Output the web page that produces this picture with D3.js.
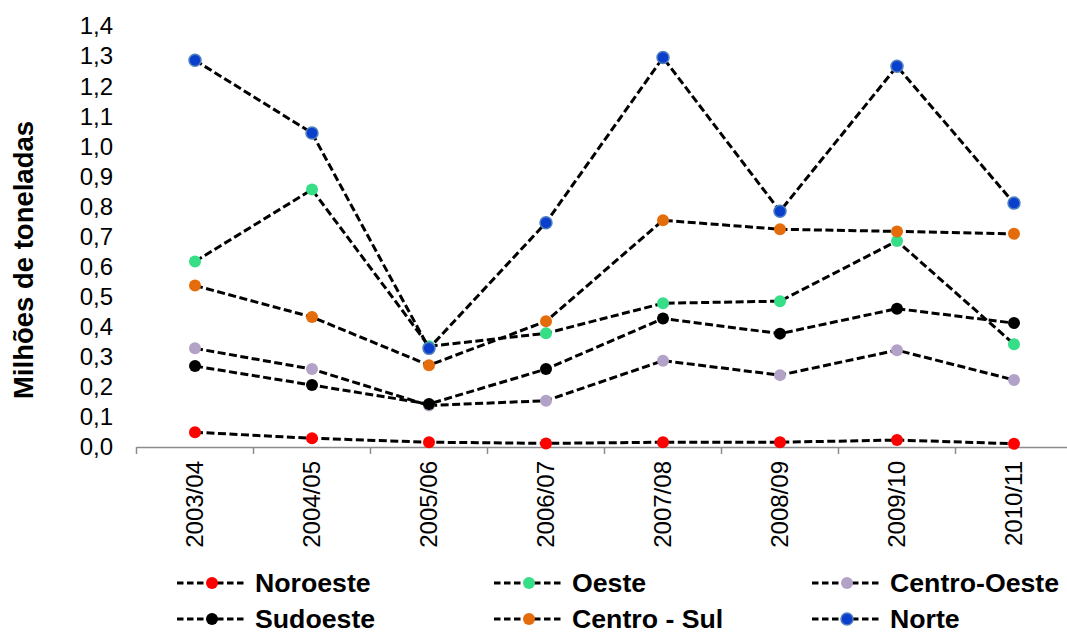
<!DOCTYPE html>
<html>
<head>
<meta charset="utf-8">
<script src="https://cdn.jsdelivr.net/npm/d3@7"></script>
<style>
  body { margin: 0; background: #fff; }
  svg { display: block; font-family: Arial, "Liberation Sans", sans-serif; }
</style>
</head>
<body>
<svg id="chart"></svg>
<script>
// Data
var safras = ["2003/04", "2004/05", "2005/06", "2006/07", "2007/08", "2008/09", "2009/10", "2010/11"];
var seriesNames = ["Noroeste", "Oeste", "Centro-Oeste", "Sudoeste", "Centro - Sul", "Norte"];
var noroeste    = [0.049, 0.029, 0.016, 0.012, 0.016, 0.016, 0.023, 0.011];
var oeste       = [0.617, 0.856, 0.335, 0.378, 0.478, 0.485, 0.685, 0.342];
var centroOeste = [0.328, 0.259, 0.138, 0.154, 0.287, 0.239, 0.322, 0.223];
var sudoeste    = [0.269, 0.206, 0.143, 0.259, 0.427, 0.377, 0.460, 0.412];
var centroSul   = [0.537, 0.432, 0.272, 0.418, 0.754, 0.724, 0.717, 0.709];
var norte       = [1.286, 1.044, 0.328, 0.746, 1.295, 0.784, 1.266, 0.811];
var yTicks = [0, 0.1, 0.2, 0.3, 0.4, 0.5, 0.6, 0.7, 0.8, 0.9, 1.0, 1.1, 1.2, 1.3, 1.4];

var colors = ["#ff0000", "#36de87", "#b3a2c7", "#000000", "#e46c0a", "#0a3fcc"];
var strokes = [null, null, null, null, null, "#4f7fbf"];
var allValues = [noroeste, oeste, centroOeste, sudoeste, centroSul, norte];

var width = 1067, height = 634;
var svg = d3.select("#chart").attr("width", width).attr("height", height);

var x = d3.scaleBand()
    .domain(safras)
    .range([136.5, 136.5 + 117 * safras.length]);

var y = d3.scaleLinear()
    .domain([0, 1.4])
    .range([447, 26]);

// Y tick labels (no axis line in the original)
svg.selectAll(".ytick")
    .data(yTicks)
    .enter().append("text")
    .attr("x", 113)
    .attr("y", d => y(d))
    .attr("dy", "0.35em")
    .attr("text-anchor", "end")
    .attr("font-size", 24)
    .text(d => d3.format(".1f")(d).replace(".", ","));

// Y title
svg.append("text")
    .attr("transform", "translate(33," + 260 + ") rotate(-90)")
    .attr("text-anchor", "middle")
    .attr("font-size", 27.5)
    .attr("font-weight", "bold")
    .text("Milhões de toneladas");

// X axis line and ticks at band edges
var xAxis = d3.axisBottom(x).tickSize(0).tickFormat("");
var gx = svg.append("g").attr("transform", "translate(0,447)").call(xAxis);
gx.select(".domain").attr("stroke", "#8c8c8c").attr("stroke-width", 1.5);

svg.selectAll(".xtickmark")
    .data(safras)
    .enter().append("line")
    .attr("x1", d => x(d))
    .attr("x2", d => x(d))
    .attr("y1", 447)
    .attr("y2", 454)
    .attr("stroke", "#8c8c8c")
    .attr("stroke-width", 1.5);

svg.selectAll(".xlabel")
    .data(safras)
    .enter().append("text")
    .attr("transform", d => "translate(" + (x(d) + x.bandwidth() / 2) + ",461) rotate(-90)")
    .attr("text-anchor", "end")
    .attr("dy", "0.35em")
    .attr("font-size", 24)
    .text(d => d);

// Lines and markers
var line = d3.line()
    .x((d, i) => x(safras[i]) + x.bandwidth() / 2)
    .y(d => y(d));

allValues.forEach(function (vals, s) {
    var g = svg.append("g");
    g.append("path")
        .datum(vals)
        .attr("d", line)
        .attr("fill", "none")
        .attr("stroke", "#000")
        .attr("stroke-width", 3)
        .attr("stroke-dasharray", "8,3.5");
    g.selectAll("circle")
        .data(vals)
        .enter().append("circle")
        .attr("cx", (d, i) => x(safras[i]) + x.bandwidth() / 2)
        .attr("cy", d => y(d))
        .attr("r", 6)
        .attr("fill", colors[s])
        .attr("stroke", strokes[s] || "none")
        .attr("stroke-width", 1.5);
});

// Legend: 3 columns, 2 rows
var legendCols = [177, 494, 812];
var legendRows = [583, 619];
seriesNames.forEach(function (name, i) {
    var lx = legendCols[i % 3];
    var ly = legendRows[Math.floor(i / 3)];
    var lg = svg.append("g");
    lg.append("line")
        .attr("x1", lx).attr("x2", lx + 70)
        .attr("y1", ly).attr("y2", ly)
        .attr("stroke", "#000")
        .attr("stroke-width", 3)
        .attr("stroke-dasharray", "6.5,3.5");
    lg.append("circle")
        .attr("cx", lx + 35)
        .attr("cy", ly)
        .attr("r", 6)
        .attr("fill", colors[i])
        .attr("stroke", strokes[i] || "none")
        .attr("stroke-width", 1.5);
    lg.append("text")
        .attr("x", lx + 78)
        .attr("y", ly + 8.8)
        .attr("font-size", 26.7)
        .attr("font-weight", "bold")
        .text(name);
});
</script>
</body>
</html>
